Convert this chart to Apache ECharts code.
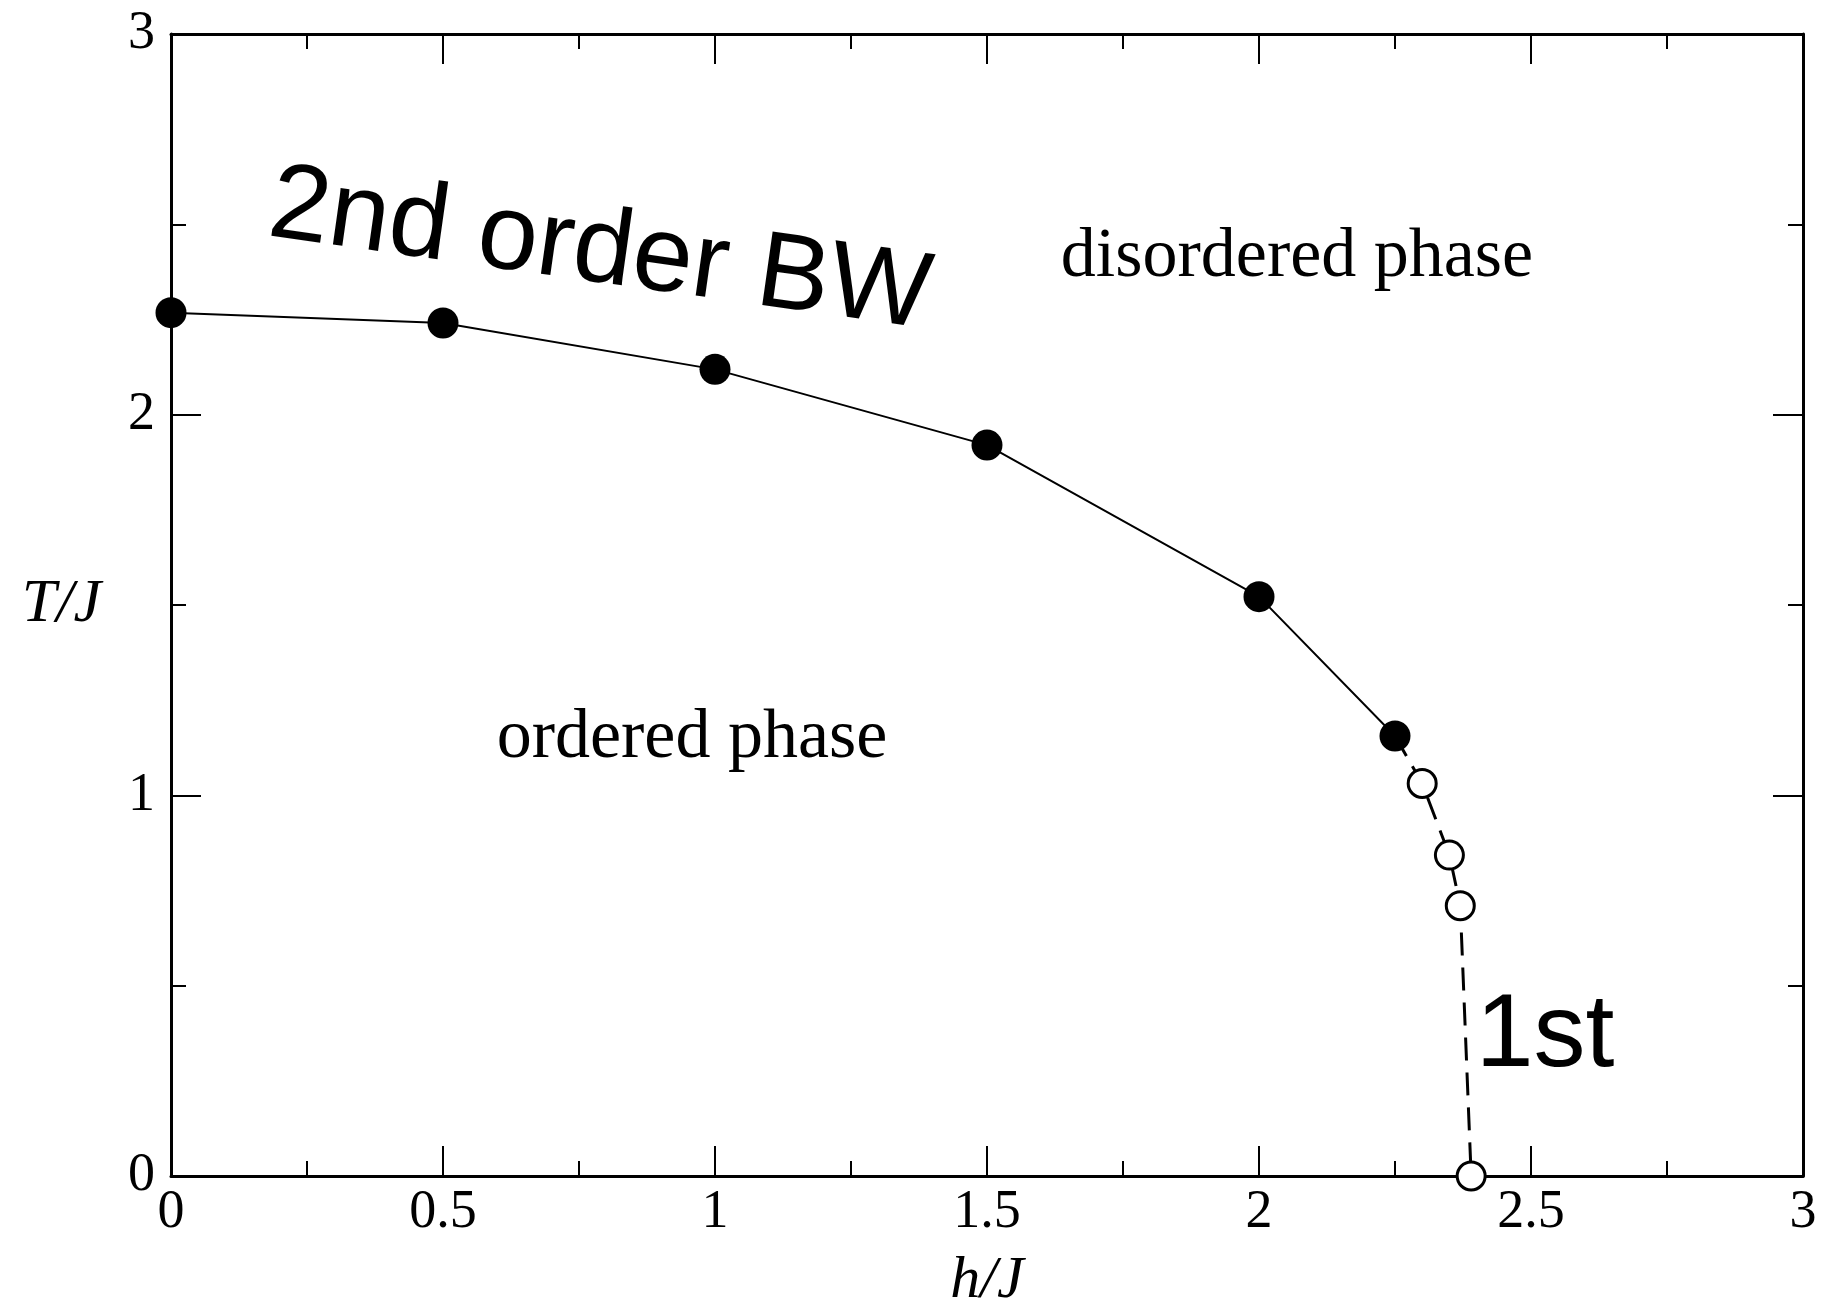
<!DOCTYPE html>
<html>
<head>
    <meta charset="UTF-8">
    <title>phase diagram</title>
    <script src="https://cdn.jsdelivr.net/npm/echarts@6/dist/echarts.min.js"></script>
    <style>
        html, body { margin: 0; padding: 0; background: #fff; }
        #main { width: 1826px; height: 1303px; }
    </style>
</head>
<body>
<div id="main"></div>
<script type="text/javascript">
    // 2nd order line (filled circles)
    var hSecond = [0, 0.5, 1, 1.5, 2, 2.25];
    var tSecond = [2.268, 2.241, 2.119, 1.920, 1.522, 1.156];
    // 1st order line (open circles), starts from the last 2nd order point
    var hFirst = [2.25, 2.30, 2.35, 2.37, 2.39];
    var tFirst = [1.156, 1.031, 0.843, 0.710, 0];

    var xTicks = [0, 0.5, 1, 1.5, 2, 2.5, 3];
    var yTicks = [0, 1, 2, 3];

    var serif = '"Liberation Serif", "Times New Roman", serif';
    var sans = '"Liberation Sans", Helvetica, Arial, sans-serif';

    var secondData = hSecond.map(function (h, i) { return [h, tSecond[i]]; });
    var firstData = hFirst.map(function (h, i) {
        var p = { value: [h, tFirst[i]] };
        if (i === 0) p.symbol = 'none';
        return p;
    });

    var axisBase = {
        type: 'value',
        min: 0,
        max: 3,
        axisLine: { show: true, onZero: false, lineStyle: { color: '#000', width: 3 } },
        axisTick: { show: true, inside: true, length: 30, lineStyle: { color: '#000', width: 2 } },
        minorTick: { show: true, splitNumber: 2, length: 15, lineStyle: { color: '#000', width: 2 } },
        splitLine: { show: false }
    };

    var myChart = echarts.init(document.getElementById('main'));
    var option = {
        animation: false,
        backgroundColor: '#fff',
        grid: { left: 171, top: 34, right: 23, bottom: 127, containLabel: false, outerBoundsMode: 'none' },
        xAxis: [
            Object.assign({}, axisBase, {
                position: 'bottom',
                interval: 0.5,
                name: 'h/J',
                nameLocation: 'middle',
                nameGap: 75,
                nameTextStyle: { fontFamily: serif, fontStyle: 'italic', fontSize: 60, color: '#000' },
                axisLabel: {
                    margin: 10, fontFamily: serif, fontSize: 54, color: '#000',
                    formatter: function (v) { return xTicks.indexOf(v) >= 0 ? String(v) : ''; }
                }
            }),
            Object.assign({}, axisBase, {
                position: 'top',
                interval: 0.5,
                axisLabel: { show: false }
            })
        ],
        yAxis: [
            Object.assign({}, axisBase, {
                position: 'left',
                interval: 1,
                name: 'T/J',
                nameLocation: 'middle',
                nameRotate: 0,
                nameGap: 70,
                nameTextStyle: { fontFamily: serif, fontStyle: 'italic', fontSize: 62, color: '#000', padding: [10, 0, 0, 0] },
                axisLabel: {
                    margin: 16, fontFamily: serif, fontSize: 54, color: '#000',
                    formatter: function (v) { return yTicks.indexOf(v) >= 0 ? String(v) : ''; }
                }
            }),
            Object.assign({}, axisBase, {
                position: 'right',
                interval: 1,
                axisLabel: { show: false }
            })
        ],
        series: [
            {
                type: 'line',
                name: '1st',
                data: firstData,
                symbol: 'circle',
                symbolSize: 28,
                clip: false,
                itemStyle: { color: '#fff', borderColor: '#000', borderWidth: 3 },
                lineStyle: { color: '#000', width: 3, type: [23, 12] },
                z: 3
            },
            {
                type: 'line',
                name: '2nd',
                data: secondData,
                symbol: 'circle',
                symbolSize: 31,
                clip: false,
                itemStyle: { color: '#000', borderWidth: 0 },
                lineStyle: { color: '#000', width: 2 },
                z: 4
            }
        ],
        graphic: [
            {
                type: 'text', x: 600, y: 252, rotation: -0.14,
                style: { text: '2nd order BW', font: '108px ' + sans, fill: '#000', align: 'center', verticalAlign: 'middle' }
            },
            {
                type: 'text', x: 1297, y: 258,
                style: { text: 'disordered phase', font: '70px ' + serif, fill: '#000', align: 'center', verticalAlign: 'middle' }
            },
            {
                type: 'text', x: 692, y: 739,
                style: { text: 'ordered phase', font: '70px ' + serif, fill: '#000', align: 'center', verticalAlign: 'middle' }
            },
            {
                type: 'text', x: 1545, y: 1037,
                style: { text: '1st', font: '104px ' + sans, fill: '#000', align: 'center', verticalAlign: 'middle' }
            }
        ]
    };
    myChart.setOption(option);
</script>
</body>
</html>
